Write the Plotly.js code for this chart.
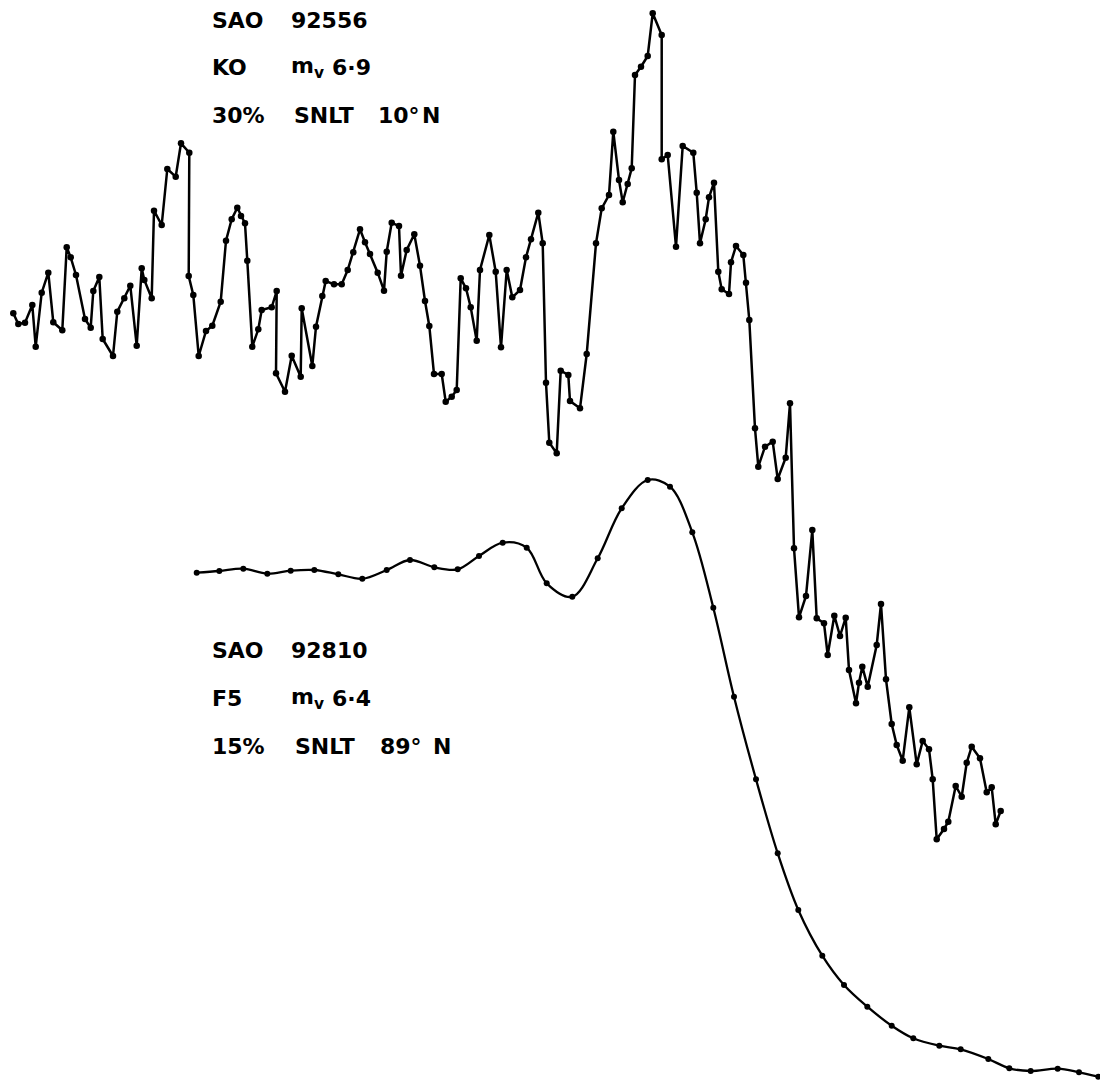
<!DOCTYPE html>
<html>
<head>
<meta charset="utf-8">
<script src="https://cdn.plot.ly/plotly-3.0.1.min.js"></script>
<style>
html,body{margin:0;padding:0;background:#fff;}
#chart{width:1100px;height:1080px;}
</style>
</head>
<body>
<div id="chart"></div>
<script>
// Upper spectrum: SAO 92556 (K0)
const upperX = [13.3,18.3,25,32.3,35.7,41.7,48.3,53.3,62.3,66.7,70.7,76,85,90.7,93.3,99.3,102.7,113,117.3,124.3,130.3,136.7,141.7,144.3,151.7,154,161.7,167.3,175.7,181,189.3,188.7,193.3,198.7,206,212.3,220.7,226,231.7,237.3,241,245,247.3,252.3,258.3,261.7,271.7,276.7,276,285,291.7,300.7,301.7,312.3,316,322.3,325.7,334,341.7,347.7,353.3,360,365,370,377.7,384,386.7,391.7,399,401,406.7,414.3,420,425,429.3,434,441.7,445.7,451.7,456.7,460.7,466,470.7,476.7,480,489.3,495.7,501,506.7,512.3,520,526,531,538.3,542.7,546,549.3,556.7,560.7,568.3,570,580,586.7,596,601.7,609,613.3,619,622.7,627.7,631.7,635,641,647.7,652.7,661.7,661.7,667.7,676,682.7,693.3,696.7,700,705.7,709,714,718.3,721.7,729,731,736,743.3,746,749.3,755,758.3,765,772.7,777.7,785.7,790,794,799,806,812.3,816.7,824,827.7,834.3,840,845.7,849,856,859,862.3,867.7,876.7,881,886,891.7,896.7,902.7,909.3,916.7,922.7,929,932.7,936.7,944,948.3,955.7,961.7,966.7,971.7,980,986.7,991.7,995.7,1000.7];
const upperY = [313.3,324,322.7,305,346.7,292.7,272.7,322.3,330.3,247.3,257.3,275,319,327.7,291,277,339,356,311.7,298.3,285.7,345.7,268.3,280,298.3,210.7,225,169,176.7,143.3,152.7,276,295,356,331,325.7,301.7,240.7,219.3,207.7,216,223.3,260.7,346.7,329.3,310,307.3,291,373.3,391.7,355.7,376.7,308.3,366,326.7,296,281,284.3,284.3,270,252.3,229.3,242.3,254,272.7,290.7,251.7,222.7,226,275.7,250,234.3,265.7,301,326,374,374,401.7,396.7,390,278.3,288.3,307.3,340.7,270,235,271.7,347.3,270,297.3,290,257.3,239.3,212.7,243.3,382.7,442.7,453.3,370.7,375,401,408.3,354,243.3,208.3,195,131.7,180,202.3,184,168.3,75,66.7,56,13.3,35,159.3,155,246.7,146,152.7,192.7,243.3,219.3,197.3,182.7,271.7,289.3,294,262.3,246,255,282.7,320,428.3,466.7,446.7,441.7,479,457.7,403.3,548.3,617.3,596,530,618.3,623.3,655,615.7,636,617.7,670,703.3,682.7,666.7,686.7,645,604,679.3,724,745,760.7,707.3,764.3,741,749.3,779.3,839.3,829,821.7,786,796.7,762.7,746.7,758.3,792.3,787.3,824.3,811];

// Lower spectrum: SAO 92810 (F5)
const lowerX = [196.7,219.3,243.3,267.3,290.7,314.3,338.3,362.3,386.7,410,434.3,457.7,479,502.7,526.7,546.7,572.3,597.7,621.7,647.7,670,692.3,713.3,734,756,777.7,798.3,822.3,844,867.3,891.7,913.3,939.3,960.7,988.3,1009.3,1030.7,1057.7,1079,1098.3];
const lowerY = [572.7,571,568.7,573.7,570.7,570,574.3,578.7,570,560,567.3,569.3,556,542.7,547.7,583.3,596.7,558.3,508.3,480,486.7,532.3,607.7,696.7,779.3,853.3,910,955.7,985,1006.7,1025.7,1038.3,1045.7,1049.3,1059,1068.3,1071,1068.7,1072.3,1076.7];

// Label words, one row per line
const upperLabels = [["SAO", "92556"], ["KO", "m<sub>v</sub>", "6·9"], ["30%", "SNLT", "10°", "N"]];
const lowerLabels = [["SAO", "92810"], ["F5", "m<sub>v</sub>", "6·4"], ["15%", "SNLT", "89°", "N"]];

// word left edges (layout)
const upperPos = [[211, 290], [211, 290, 331], [211, 293, 377, 421]];
const lowerPos = [[211, 290], [211, 290, 331], [211, 294, 379, 432]];

const traces = [
  {x: upperX, y: upperY, mode: 'lines+markers', type: 'scatter',
   line: {color: '#000', width: 2.5}, marker: {color: '#000', size: 6.5},
   cliponaxis: false, hoverinfo: 'skip'},
  {x: lowerX, y: lowerY, mode: 'lines+markers', type: 'scatter',
   line: {color: '#000', width: 2.3, shape: 'spline', smoothing: 1}, marker: {color: '#000', size: 6},
   cliponaxis: false, hoverinfo: 'skip'}
];

const font = {family: 'DejaVu Sans', size: 22, color: '#000', weight: 'bold'};
const annotations = [];
function addBlock(labels, pos, yStart, step) {
  labels.forEach((row, i) => {
    row.forEach((word, j) => {
      annotations.push({x: pos[i][j], y: yStart + i*step, xref: 'x', yref: 'y', text: word,
        showarrow: false, xanchor: 'left', yanchor: 'middle', font: font, borderpad: 0});
    });
  });
}
addBlock(upperLabels, upperPos, 20, 47.5);
addBlock(lowerLabels, lowerPos, 650, 48);

const layout = {
  width: 1100, height: 1080,
  margin: {l: 0, r: 0, t: 0, b: 0},
  paper_bgcolor: '#fff', plot_bgcolor: '#fff',
  showlegend: false,
  xaxis: {range: [0, 1100], visible: false, fixedrange: true},
  yaxis: {range: [1080, 0], visible: false, fixedrange: true},
  annotations: annotations
};

Plotly.newPlot('chart', traces, layout, {staticPlot: true});
</script>
</body>
</html>
